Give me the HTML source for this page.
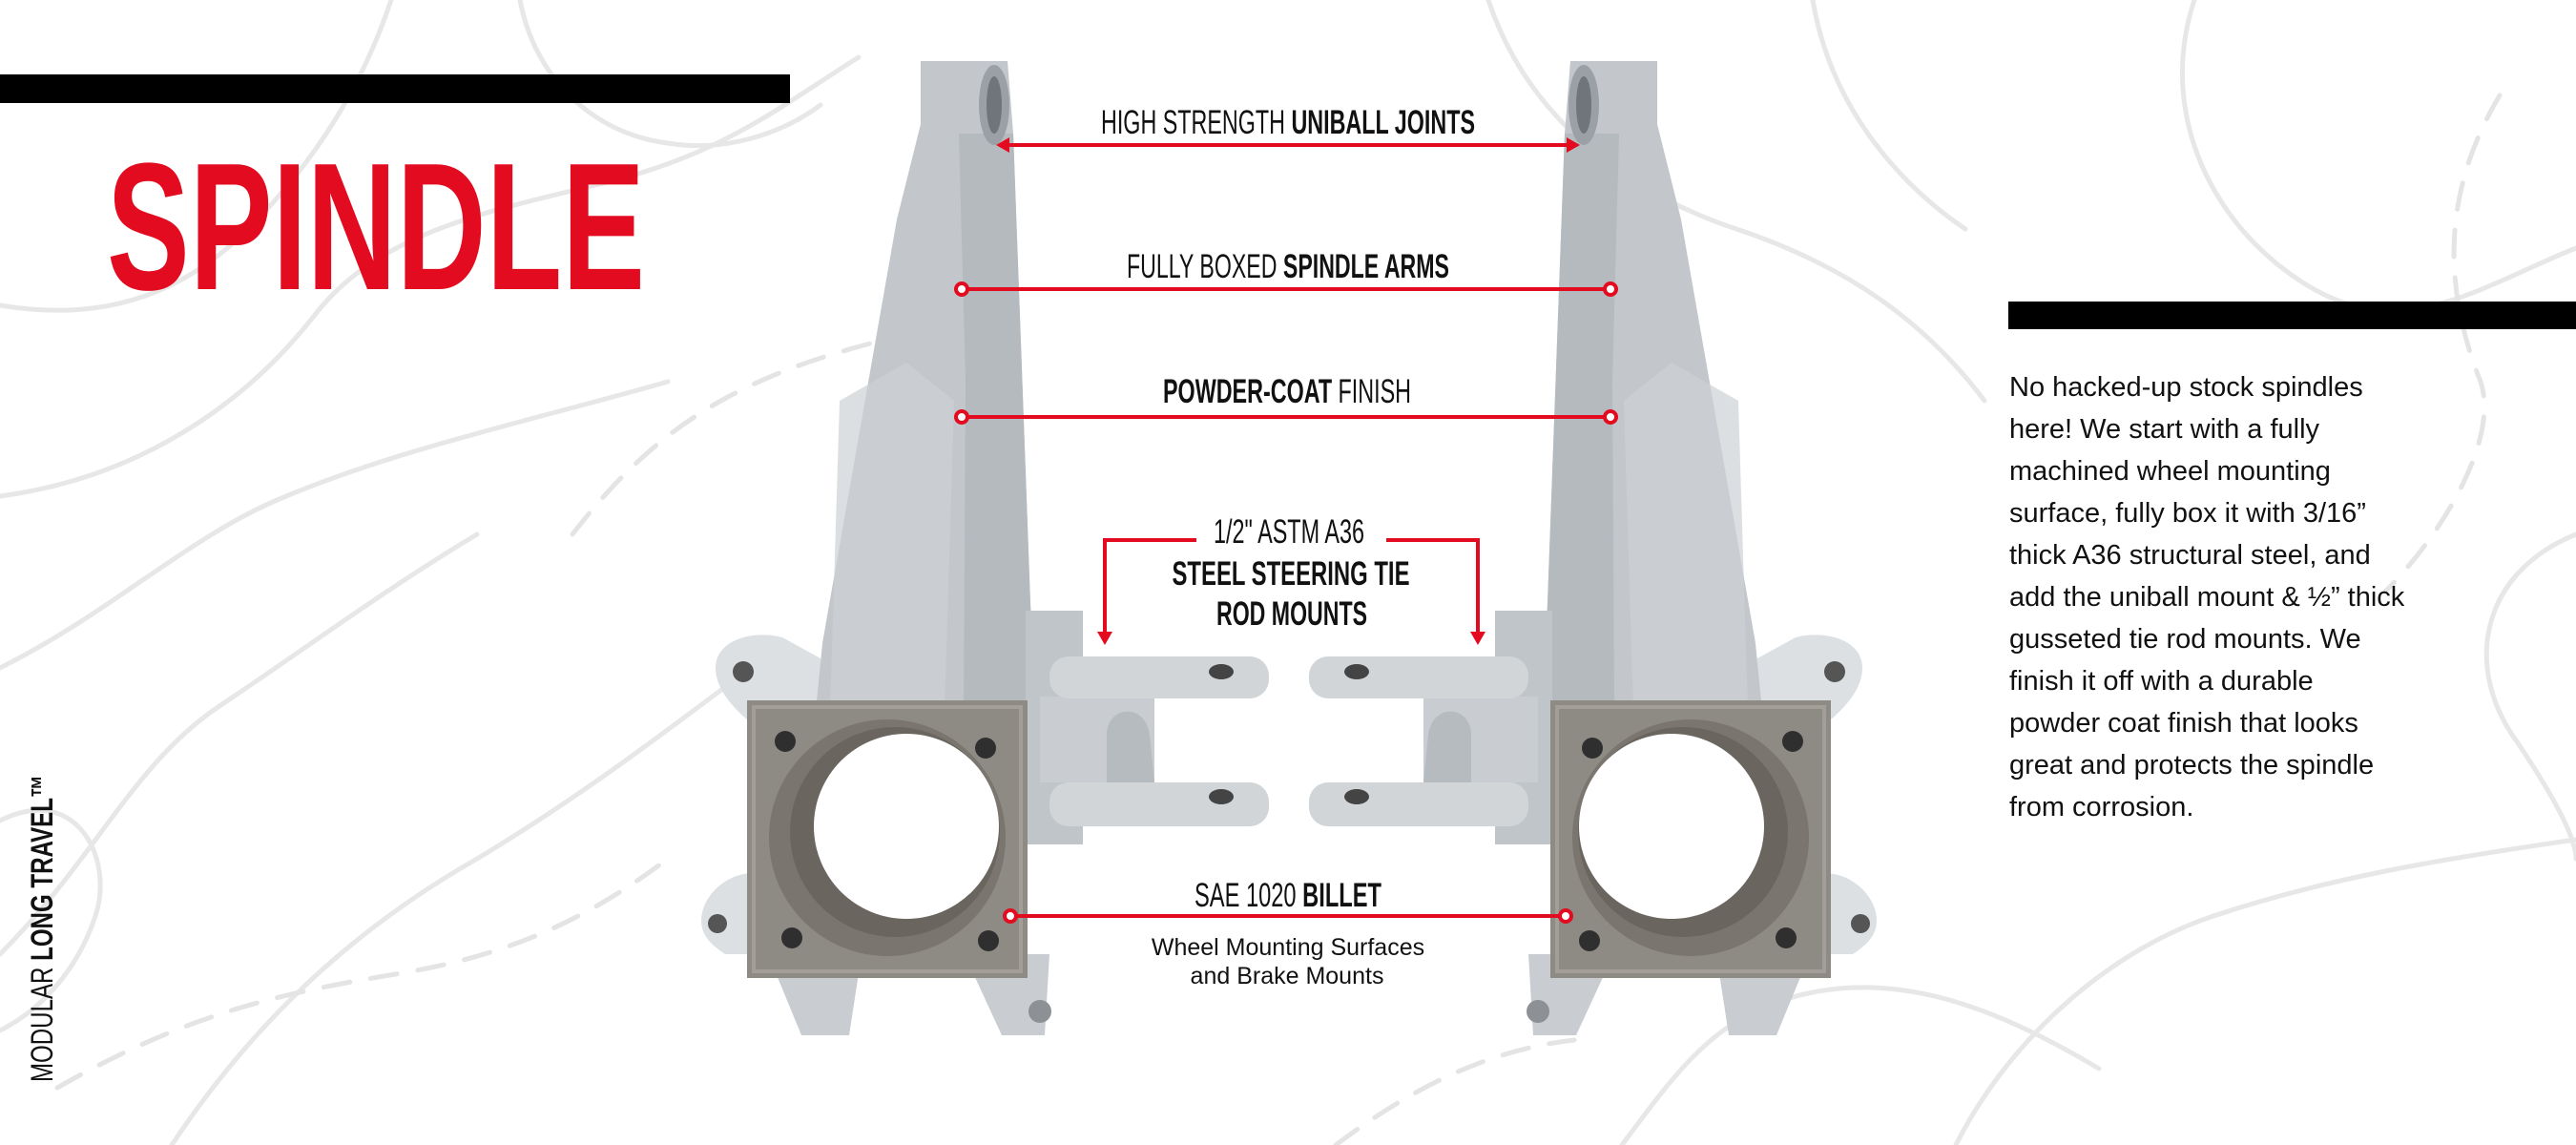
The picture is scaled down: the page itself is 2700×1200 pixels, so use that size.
<!DOCTYPE html>
<html><head><meta charset="utf-8">
<style>
html,body{margin:0;padding:0;background:#fff;}
svg{display:block;}
.c{font-family:"Liberation Sans Narrow","Liberation Sans",sans-serif;}
</style></head>
<body>
<svg width="2700" height="1200" viewBox="0 0 2700 1200" xmlns="http://www.w3.org/2000/svg">
<rect width="2700" height="1200" fill="#fff"/>
<g fill="none" stroke="#e7e7e7" stroke-width="5" stroke-linecap="round">
<path d="M0,320 C120,340 200,300 260,240 C330,170 380,90 410,0"/>
<path d="M0,520 C150,500 260,420 330,330 C400,240 520,220 640,190 C760,160 820,110 900,60"/>
<path d="M0,700 C120,640 200,560 300,520 C420,470 560,440 700,400"/>
<path d="M180,1200 C260,1080 360,980 500,900 C600,840 680,780 760,720"/>
<path d="M0,1000 C100,900 140,800 230,740 C320,680 400,620 500,560"/>
<path d="M545,0 C560,80 620,140 700,150 C760,160 820,140 860,110"/>
<path d="M1560,0 C1600,120 1700,200 1820,240 C1940,280 2020,340 2080,420"/>
<path d="M1900,0 C1920,120 2000,200 2060,240"/>
<path d="M2300,0 C2260,120 2320,240 2420,300 C2520,360 2600,300 2700,260"/>
<path d="M2700,560 C2600,600 2580,700 2640,780 C2680,840 2700,880 2700,900"/>
<path d="M2050,1200 C2100,1100 2200,1000 2320,960 C2440,920 2560,900 2700,880"/>
<path d="M1700,1200 C1760,1120 1800,1060 1900,1040 C2000,1020 2100,1060 2200,1120"/>
<path d="M0,860 C80,820 120,900 100,960 C80,1020 40,1060 0,1080"/>
</g>
<g fill="none" stroke="#e4e4e4" stroke-width="5" stroke-dasharray="28 22" stroke-linecap="round">
<path d="M600,560 C700,430 800,380 1000,340"/>
<path d="M60,1140 C200,1060 300,1040 420,1020 C540,1000 620,960 700,900"/>
<path d="M2620,100 C2560,200 2560,300 2600,400 C2620,460 2560,560 2500,620"/>
<path d="M1400,1200 C1480,1140 1560,1100 1650,1090"/>
</g>

<rect x="0" y="78" width="828" height="30" fill="#000"/>
<rect x="2105" y="316" width="595" height="29" fill="#000"/>

<text x="112" y="303" class="c" font-size="190" font-weight="700" fill="#e30b1f" textLength="564" lengthAdjust="spacingAndGlyphs">SPINDLE</text>

<text transform="translate(55,1134) rotate(-90)" class="c" font-size="32" fill="#111" textLength="322" lengthAdjust="spacingAndGlyphs">MODULAR <tspan font-weight="700">LONG TRAVEL™</tspan></text>

<g font-family="'Liberation Sans',Arial,sans-serif" font-size="29" fill="#111">
<text x="2106" y="415">No hacked-up stock spindles</text>
<text x="2106" y="459">here! We start with a fully</text>
<text x="2106" y="503">machined wheel mounting</text>
<text x="2106" y="547">surface, fully box it with 3/16”</text>
<text x="2106" y="591">thick A36 structural steel, and</text>
<text x="2106" y="635">add the uniball mount &amp; ½” thick</text>
<text x="2106" y="679">gusseted tie rod mounts. We</text>
<text x="2106" y="723">finish it off with a durable</text>
<text x="2106" y="767">powder coat finish that looks</text>
<text x="2106" y="811">great and protects the spindle</text>
<text x="2106" y="855">from corrosion.</text>
</g>

<defs>
<g id="sp">
  <polygon points="805,1000 840,1085 890,1085 900,1020 1020,1020 1050,1085 1095,1085 1100,1000" fill="#c9cdd1"/>
  <circle cx="1090" cy="1060" r="12" fill="#8d9195"/>
  <path d="M750,700 C750,670 790,660 820,668 L860,690 L860,760 L790,760 C765,740 750,720 750,700Z" fill="#dde0e3"/>
  <path d="M735,965 C735,940 760,915 790,915 L790,1000 L760,1000 C745,990 735,980 735,965Z" fill="#dde0e3"/>
  <circle cx="779" cy="704" r="11" fill="#555"/>
  <circle cx="752" cy="968" r="10" fill="#555"/>
  <polygon points="965,64 1056,64 1062,140 1080,632 1085,745 855,745 862,674 940,230 965,130" fill="#c3c7cb"/>
  <polygon points="1005,140 1062,140 1080,632 1085,745 1010,745 1012,400" fill="#b5babf"/>
  <polygon points="880,420 950,380 1000,420 990,745 870,745" fill="#cdd1d5" opacity="0.7"/>
  <ellipse cx="1042" cy="110" rx="16" ry="42" fill="#9aa0a5"/>
  <ellipse cx="1042" cy="110" rx="8" ry="30" fill="#6f757a"/>
  <rect x="1075" y="640" width="60" height="245" fill="#c0c5c9"/>
  <rect x="1090" y="730" width="120" height="90" fill="#c9cdd1"/>
  <path d="M1160,820 L1160,770 C1160,740 1200,735 1205,770 L1210,820Z" fill="#b6bbc0"/>
  <rect x="1100" y="688" width="230" height="44" rx="20" fill="#d1d5d8"/>
  <rect x="1100" y="820" width="230" height="46" rx="20" fill="#d1d5d8"/>
  <ellipse cx="1280" cy="704" rx="13" ry="8" fill="#444"/>
  <ellipse cx="1280" cy="835" rx="13" ry="8" fill="#444"/>
  <rect x="783" y="734" width="294" height="291" fill="#8e8a84"/>
  <rect x="790" y="741" width="280" height="277" fill="none" stroke="#a39f98" stroke-width="4"/>
  <circle cx="930" cy="878" r="124" fill="#7a766f"/>
  <circle cx="938" cy="872" r="110" fill="#6a665f"/>
  <circle cx="950" cy="866" r="97" fill="#ffffff"/>
  <circle cx="823" cy="777" r="11" fill="#2f2f2f"/>
  <circle cx="1033" cy="784" r="11" fill="#2f2f2f"/>
  <circle cx="830" cy="983" r="11" fill="#2f2f2f"/>
  <circle cx="1036" cy="986" r="11" fill="#2f2f2f"/>
</g>
</defs>
<use href="#sp"/>
<use href="#sp" transform="translate(2702,0) scale(-1,1)"/>

<g stroke="#e30b1f" stroke-width="4" fill="none">
  <line x1="1050" y1="152" x2="1648" y2="152"/>
  <line x1="1008" y1="303" x2="1688" y2="303"/>
  <line x1="1008" y1="437" x2="1688" y2="437"/>
  <polyline points="1254,566 1158,566 1158,664"/>
  <polyline points="1453,566 1549,566 1549,664"/>
  <line x1="1059" y1="960" x2="1641" y2="960"/>
</g>
<g fill="#e30b1f">
  <polygon points="1044,152 1058,144 1058,160"/>
  <polygon points="1656,152 1642,144 1642,160"/>
  <polygon points="1150,662 1166,662 1158,676"/>
  <polygon points="1541,662 1557,662 1549,676"/>
</g>
<g fill="#fff" stroke="#e30b1f" stroke-width="4">
  <circle cx="1008" cy="303" r="6"/><circle cx="1688" cy="303" r="6"/>
  <circle cx="1008" cy="437" r="6"/><circle cx="1688" cy="437" r="6"/>
  <circle cx="1059" cy="960" r="6"/><circle cx="1641" cy="960" r="6"/>
</g>

<g class="c" font-size="35" fill="#111" text-anchor="middle">
  <text x="1350" y="140" textLength="392" lengthAdjust="spacingAndGlyphs">HIGH STRENGTH <tspan font-weight="700">UNIBALL JOINTS</tspan></text>
  <text x="1350" y="291" textLength="338" lengthAdjust="spacingAndGlyphs">FULLY BOXED <tspan font-weight="700">SPINDLE ARMS</tspan></text>
  <text x="1349" y="422" textLength="260" lengthAdjust="spacingAndGlyphs"><tspan font-weight="700">POWDER-COAT</tspan> FINISH</text>
  <text x="1351" y="569" textLength="158" lengthAdjust="spacingAndGlyphs">1/2" ASTM A36</text>
  <text x="1353" y="613" font-weight="700" textLength="249" lengthAdjust="spacingAndGlyphs">STEEL STEERING TIE</text>
  <text x="1354" y="655" font-weight="700" textLength="158" lengthAdjust="spacingAndGlyphs">ROD MOUNTS</text>
  <text x="1350" y="950" textLength="196" lengthAdjust="spacingAndGlyphs">SAE 1020 <tspan font-weight="700">BILLET</tspan></text>
</g>
<g font-family="'Liberation Sans',Arial,sans-serif" font-size="25" fill="#111" text-anchor="middle">
  <text x="1350" y="1001">Wheel Mounting Surfaces</text>
  <text x="1349" y="1031">and Brake Mounts</text>
</g>
</svg>
</body></html>
